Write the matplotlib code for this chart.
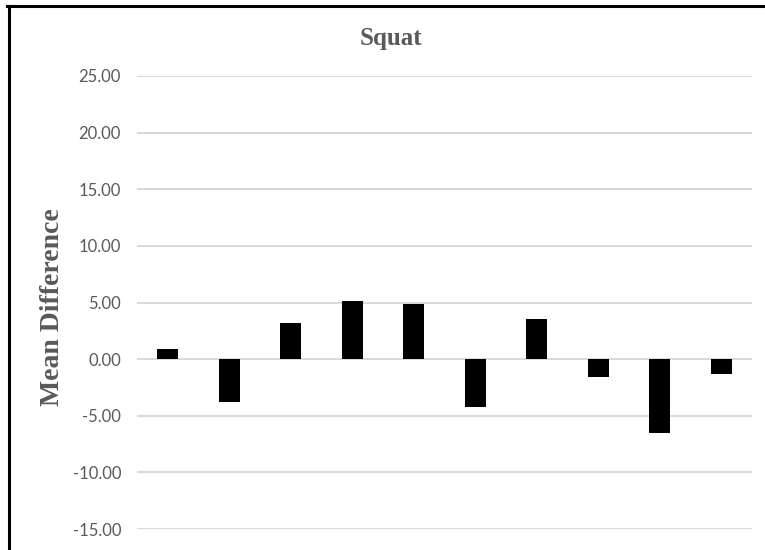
import numpy as np
import matplotlib
matplotlib.use("Agg")
import matplotlib.pyplot as plt
from matplotlib.lines import Line2D

W, H = 765, 550

# values
conditions = list(range(1, 11))
mean_diff = [0.9, -3.75, 3.2, 5.15, 4.85, -4.25, 3.55, -1.6, -6.55, -1.3]
yticks = [-15, -10, -5, 0, 5, 10, 15, 20, 25]

GREY = "#595959"

fig = plt.figure(figsize=(W / 100, H / 100), dpi=100)
ax = fig.add_axes([137 / W, 1 - 529 / H, (752 - 137) / W, (529 - 76) / H])

x = np.arange(len(conditions))
ax.bar(x, mean_diff, width=0.34, color="black", zorder=3)

ax.set_xlim(-0.5, len(conditions) - 0.5)
ax.set_ylim(-15, 25)
ax.set_yticks(yticks)
ax.set_yticklabels(["{:.2f}".format(v) for v in yticks],
                   fontname="Lato", fontsize=12, color=GREY)
ax.set_xticks([])
ax.tick_params(axis="y", length=0, pad=11.5)
ax.grid(axis="y", color="#d9d9d9", linewidth=1.4, zorder=0)
for s in ax.spines.values():
    s.set_visible(False)

fig.text(391 / W, 1 - 38 / H, "Squat", ha="center", va="center",
         fontname="Liberation Serif", fontweight="bold", fontsize=18, color=GREY)
fig.text(53 / W, 1 - 307 / H, "Mean Difference", rotation=90,
         ha="center", va="center", fontname="Liberation Serif",
         fontweight="bold", fontsize=20, color=GREY)

# frame around the chart (left and top edges visible)
fig.add_artist(Line2D([8.5 / W, 8.5 / W], [0, 1 - 5.5 / H],
                      color="black", linewidth=2.2, transform=fig.transFigure))
fig.add_artist(Line2D([7 / W, 1], [1 - 5.5 / H, 1 - 5.5 / H],
                      color="black", linewidth=2.2, transform=fig.transFigure))

fig.savefig("out.png", dpi=100)
